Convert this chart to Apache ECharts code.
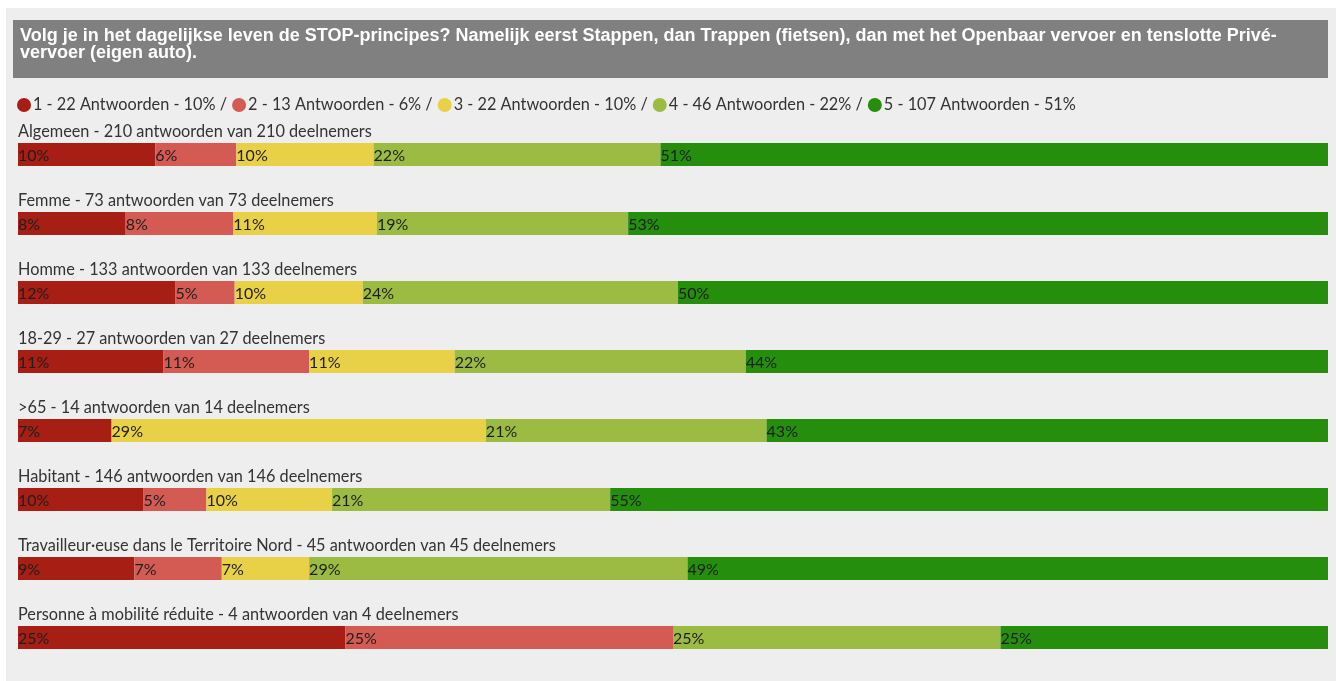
<!DOCTYPE html>
<html>
<head>
<meta charset="utf-8">
<script src="https://cdn.jsdelivr.net/npm/echarts@6/dist/echarts.min.js"></script>
<style>
  html, body { margin: 0; padding: 0; background: #fff; }
  #chart { width: 1336px; height: 681px; }
</style>
</head>
<body>
<div id="chart"></div>
<script>
var rowNames = ['Algemeen', 'Femme', 'Homme', '18-29', '>65', 'Habitant',
  'Travailleur·euse dans le Territoire Nord', 'Personne à mobilité réduite']
var rowTotals = [210, 73, 133, 27, 14, 146, 45, 4]

// antwoorden per score (1..5), per rij
var score1 = [22, 6, 16, 3, 1, 14, 4, 1]
var score2 = [13, 6, 6, 3, 0, 7, 3, 1]
var score3 = [22, 8, 13, 3, 4, 14, 3, 0]
var score4 = [46, 14, 32, 6, 3, 31, 13, 1]
var score5 = [107, 39, 66, 12, 6, 80, 22, 1]

var scoreNames = ['1', '2', '3', '4', '5']
var scoreColors = ['#a61e14', '#d45b53', '#e8d047', '#9cbb43', '#258e0c']
var allScores = [score1, score2, score3, score4, score5]

function pct(count, total) {
  return Math.round(count / total * 100)
}

var legendText = {}
scoreNames.forEach(function (name, i) {
  var t = name + ' - ' + allScores[i][0] + ' Antwoorden - ' + pct(allScores[i][0], rowTotals[0]) + '%'
  if (i < scoreNames.length - 1) t += ' /'
  legendText[name] = t
})

var seriesList = scoreNames.map(function (name, i) {
  return {
    name: name,
    type: 'bar',
    stack: 'all',
    barWidth: 23,
    itemStyle: { color: scoreColors[i] },
    label: {
      show: true,
      position: 'insideLeft',
      distance: 0,
      offset: [0, 1],
      color: '#1e1e1e',
      fontFamily: 'Lato',
      fontSize: 16,
      formatter: function (p) {
        var c = allScores[i][p.dataIndex]
        return c === 0 ? '' : pct(c, rowTotals[p.dataIndex]) + '%'
      }
    },
    emphasis: { disabled: true },
    data: allScores[i].map(function (c, r) { return c / rowTotals[r] })
  }
})

var myChart = echarts.init(document.getElementById('chart'))
myChart.setOption({
  backgroundColor: '#ffffff',
  animation: false,
  graphic: [
    { type: 'rect', z: -10, shape: { x: 6, y: 8, width: 1330, height: 673 }, style: { fill: '#eeeeee' } },
    { type: 'rect', z: -9, shape: { x: 13, y: 20, width: 1315, height: 58 }, style: { fill: '#808080' } }
  ],
  title: {
    text: 'Volg je in het dagelijkse leven de STOP-principes? Namelijk eerst Stappen, dan Trappen (fietsen), dan met het Openbaar vervoer en tenslotte Privé-\nvervoer (eigen auto).',
    left: 14,
    top: 28,
    padding: [0, 6],
    textStyle: {
      color: '#ffffff',
      fontFamily: 'Liberation Sans',
      fontWeight: 'bold',
      fontSize: 18,
      lineHeight: 17
    }
  },
  legend: {
    left: 17,
    top: 97,
    padding: 0,
    itemWidth: 14,
    itemHeight: 14,
    itemGap: 5,
    icon: 'circle',
    selectedMode: false,
    formatter: function (name) { return legendText[name] },
    textStyle: { color: '#333', fontFamily: 'Lato', fontSize: 16.3, padding: [0, 0, 0, -3] }
  },
  grid: { left: 18, right: 8, top: 120, bottom: 9 },
  xAxis: { type: 'value', min: 0, max: 1, show: false },
  yAxis: {
    type: 'category',
    inverse: true,
    data: rowNames,
    axisLine: { show: false },
    axisTick: { show: false },
    axisLabel: {
      inside: true,
      interval: 0,
      margin: 0,
      color: '#333',
      fontFamily: 'Lato',
      fontSize: 16.3,
      lineHeight: 18,
      verticalAlign: 'bottom',
      padding: [0, 0, 14, 0],
      formatter: function (v, idx) {
        return v + ' - ' + rowTotals[idx] + ' antwoorden van ' + rowTotals[idx] + ' deelnemers'
      }
    }
  },
  series: seriesList
})
</script>
</body>
</html>
